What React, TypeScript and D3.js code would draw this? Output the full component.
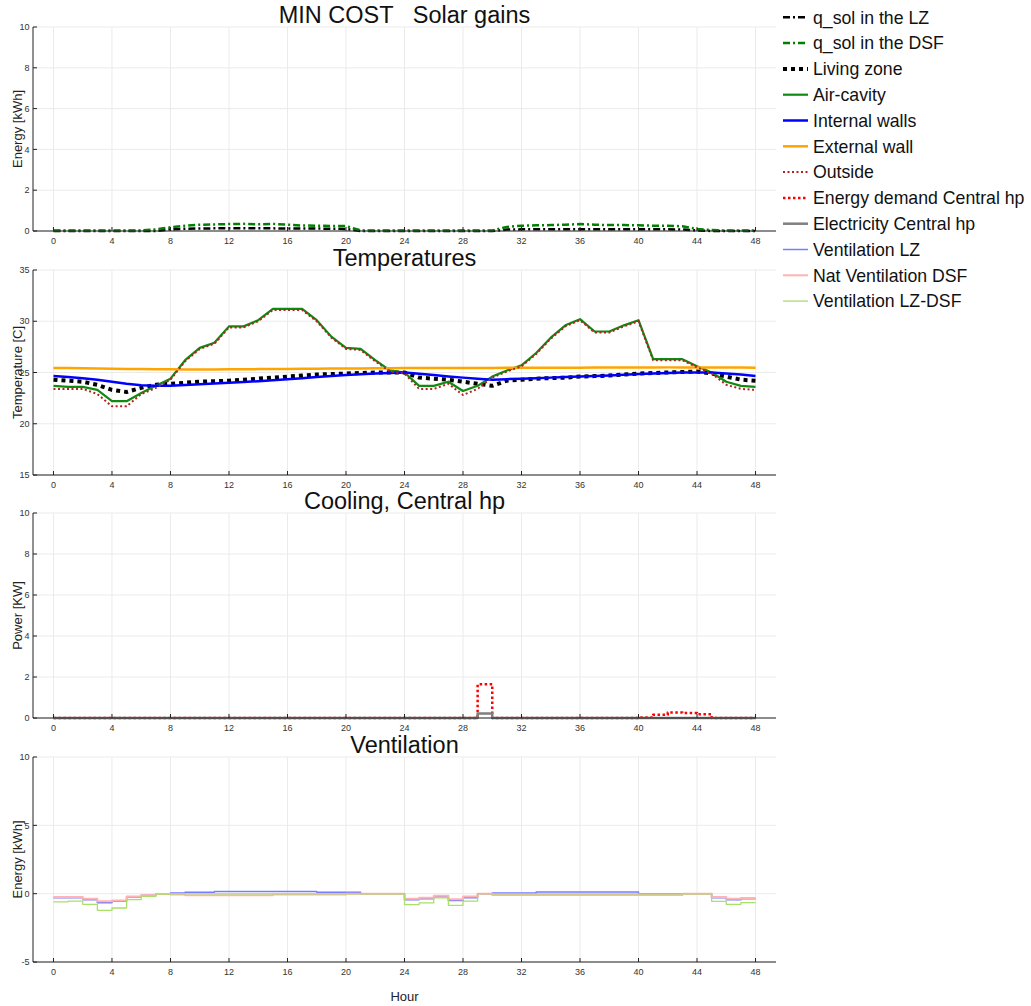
import React from 'react';
import * as d3 from 'd3';

const hours: number[] = d3.range(0, 49);
const xTicks: number[] = d3.range(0, 49, 4);

// Solar gains [kWh]
const qsolLZ = [0,0,0,0,0,0,0,0, 0.08,0.11,0.12,0.13,0.13,0.13,0.13,0.13,0.12,0.12,0.12,0.11, 0.1,0,0,0,0,0,0,0,0,0, 0,0.07,0.08,0.08,0.08,0.09,0.09,0.09,0.08,0.08, 0.08,0.08,0.08,0.07,0.03,0,0,0,0];
const qsolDSF = [0.02,0.02,0.02,0.02,0.03,0.03,0.03,0.08, 0.18,0.26,0.31,0.32,0.34,0.35,0.33,0.35,0.31,0.27,0.26,0.25, 0.24,0.03,0.02,0.02,0.02,0.02,0.02,0.02,0.02,0.02, 0.03,0.2,0.26,0.28,0.29,0.31,0.34,0.31,0.29,0.29, 0.28,0.26,0.26,0.23,0.1,0.05,0.02,0.02,0.02];

// Temperatures [C]
const livingZone = [24.3,24.2,24.1,23.8,23.3,23.1,23.5,23.8, 23.9,24.0,24.1,24.15,24.2,24.3,24.4,24.5,24.6,24.7,24.8,24.85, 24.9,24.95,25.0,25.0,25.0,24.5,24.4,24.3,24.1,23.9, 23.7,24.2,24.3,24.4,24.45,24.5,24.6,24.65,24.7,24.8, 24.9,24.95,25.0,25.05,25.1,24.9,24.6,24.3,24.2];
const airCavity = [23.7,23.6,23.6,23.3,22.2,22.2,23.0,23.7, 24.4,26.2,27.4,27.9,29.5,29.5,30.1,31.2,31.2,31.2,30.1,28.5, 27.4,27.3,26.2,25.2,25.0,23.7,23.7,24.1,23.2,23.7, 24.6,25.2,25.7,26.9,28.4,29.6,30.2,29.0,29.0,29.6, 30.1,26.3,26.3,26.3,25.6,25.0,24.1,23.7,23.6];
const internalWalls = [24.65,24.55,24.45,24.3,24.1,23.9,23.75,23.7, 23.7,23.78,23.85,23.92,24.0,24.08,24.15,24.25,24.35,24.45,24.55,24.65, 24.75,24.82,24.9,24.95,25.0,24.88,24.75,24.62,24.5,24.4, 24.3,24.35,24.4,24.45,24.5,24.55,24.6,24.65,24.7,24.78, 24.85,24.9,24.95,25.0,25.0,25.0,24.9,24.8,24.65];
const externalWall = [25.45,25.43,25.41,25.39,25.37,25.35,25.33,25.32, 25.31,25.3,25.3,25.3,25.31,25.32,25.33,25.34,25.35,25.36,25.37,25.38, 25.39,25.4,25.41,25.42,25.43,25.44,25.44,25.44,25.45,25.45, 25.45,25.46,25.46,25.46,25.47,25.47,25.47,25.48,25.48,25.48, 25.49,25.49,25.5,25.5,25.5,25.5,25.49,25.48,25.47];
const outside = [23.4,23.4,23.4,22.9,21.7,21.7,22.9,23.5, 24.3,26.1,27.3,27.8,29.4,29.4,30.0,31.1,31.1,31.1,30.0,28.4, 27.3,27.2,26.1,25.1,24.9,23.4,23.4,23.9,22.8,23.4, 24.5,25.1,25.6,26.8,28.3,29.5,30.1,28.9,28.9,29.5, 30.0,26.2,26.2,26.2,25.5,24.9,23.8,23.4,23.3];

// Cooling, central heat pump [kW] (step values)
const energyDemandHP = [0,0,0,0,0,0,0,0,0,0, 0,0,0,0,0,0,0,0,0,0, 0,0,0,0,0,0,0,0,0,1.65, 0,0,0,0,0,0,0,0,0,0, 0.03,0.16,0.27,0.24,0.18,0,0,0,0];
const electricityHP = [0,0,0,0,0,0,0,0,0,0, 0,0,0,0,0,0,0,0,0,0, 0,0,0,0,0,0,0,0,0,0.22, 0,0,0,0,0,0,0,0,0,0, 0,0,0,0,0,0,0,0,0];

// Ventilation [kWh] (step values)
const ventLZ = [-0.3,-0.3,-0.44,-0.66,-0.56,-0.25,-0.12,0,0.05,0.1, 0.1,0.15,0.15,0.15,0.15,0.15,0.15,0.15,0.1,0.1, 0.1,0,0,0,-0.44,-0.37,-0.2,-0.5,-0.3,0, 0.05,0.05,0.05,0.12,0.12,0.12,0.12,0.12,0.12,0.12, 0,0,0,0,0,-0.3,-0.44,-0.37,-0.37];
const natVentDSF = [-0.25,-0.25,-0.37,-0.56,-0.5,-0.2,-0.12,-0.03,-0.07,-0.12, -0.12,-0.12,-0.12,-0.12,-0.12,-0.07,-0.07,-0.07,-0.07,-0.07, 0,0,0,0,-0.37,-0.3,-0.15,-0.4,-0.2,0, -0.1,-0.1,-0.1,-0.1,-0.1,-0.1,-0.1,-0.1,-0.1,-0.1, -0.1,-0.1,-0.1,0,0,-0.25,-0.37,-0.32,-0.32];
const ventLZDSF = [-0.6,-0.54,-0.78,-1.22,-1.05,-0.44,-0.2,-0.03,-0.02,-0.02, -0.02,-0.02,-0.02,-0.02,-0.02,-0.02,-0.02,-0.02,-0.02,-0.02, -0.02,-0.02,-0.02,-0.02,-0.8,-0.68,-0.3,-0.85,-0.54,0, -0.02,-0.02,-0.02,-0.02,-0.02,-0.02,-0.02,-0.02,-0.02,-0.02, -0.02,-0.02,-0.02,-0.02,-0.02,-0.56,-0.78,-0.66,-0.66];

type Style = { color: string; width: number; dash?: string };
type Series = { name: string; values: number[]; style: Style; step?: boolean };

const S: Record<string, Style> = {
  qLZ: { color: '#000000', width: 2.5, dash: '7 3 2 3' },
  qDSF: { color: '#008000', width: 2.5, dash: '7 3 2 3' },
  living: { color: '#000000', width: 4, dash: '4 4' },
  air: { color: '#108a10', width: 2.2 },
  internal: { color: '#0000ff', width: 2.5 },
  external: { color: '#ffa500', width: 2.5 },
  outside: { color: '#b22222', width: 2, dash: '2 2.5' },
  demand: { color: '#ff0000', width: 2.5, dash: '2.5 2.5' },
  elec: { color: '#808080', width: 2.5 },
  vLZ: { color: '#7b7bff', width: 1.5 },
  vNat: { color: '#ffb3b3', width: 2 },
  vLZDSF: { color: '#a8e06a', width: 1.3 },
};

const legendItems: [string, Style][] = [
  ['q_sol in the LZ', S.qLZ],
  ['q_sol in the DSF', S.qDSF],
  ['Living zone', S.living],
  ['Air-cavity', S.air],
  ['Internal walls', S.internal],
  ['External wall', S.external],
  ['Outside', S.outside],
  ['Energy demand Central hp', S.demand],
  ['Electricity Central hp', S.elec],
  ['Ventilation LZ', S.vLZ],
  ['Nat Ventilation DSF', S.vNat],
  ['Ventilation LZ-DSF', S.vLZDSF],
];

type Panel = {
  title: string; top: number; bottom: number; domain: [number, number];
  yTicks: number[]; yLabel: string; series: Series[];
};

const panels: Panel[] = [
  { title: 'MIN COST   Solar gains', top: 27, bottom: 231, domain: [0, 10], yTicks: [0, 2, 4, 6, 8, 10], yLabel: 'Energy [kWh]',
    series: [
      { name: 'q_sol in the LZ', values: qsolLZ, style: S.qLZ },
      { name: 'q_sol in the DSF', values: qsolDSF, style: S.qDSF },
    ] },
  { title: 'Temperatures', top: 270, bottom: 475, domain: [15, 35], yTicks: [15, 20, 25, 30, 35], yLabel: 'Temperature [C]',
    series: [
      { name: 'Living zone', values: livingZone, style: S.living },
      { name: 'Air-cavity', values: airCavity, style: S.air },
      { name: 'Internal walls', values: internalWalls, style: S.internal },
      { name: 'External wall', values: externalWall, style: S.external },
      { name: 'Outside', values: outside, style: S.outside },
    ] },
  { title: 'Cooling, Central hp', top: 513, bottom: 718, domain: [0, 10], yTicks: [0, 2, 4, 6, 8, 10], yLabel: 'Power [KW]',
    series: [
      { name: 'Energy demand Central hp', values: energyDemandHP, style: S.demand, step: true },
      { name: 'Electricity Central hp', values: electricityHP, style: S.elec, step: true },
    ] },
  { title: 'Ventilation', top: 757, bottom: 962, domain: [-5, 10], yTicks: [-5, 0, 5, 10], yLabel: 'Energy [kWh]',
    series: [
      { name: 'Ventilation LZ', values: ventLZ, style: S.vLZ, step: true },
      { name: 'Nat Ventilation DSF', values: natVentDSF, style: S.vNat, step: true },
      { name: 'Ventilation LZ-DSF', values: ventLZDSF, style: S.vLZDSF, step: true },
    ] },
];

const LEFT = 33;
const RIGHT = 776;
const FONT = '"Liberation Sans", Arial, Helvetica, sans-serif';

function PanelView({ p, x }: { p: Panel; x: d3.ScaleLinear<number, number> }) {
  const y = d3.scaleLinear().domain(p.domain).range([p.bottom, p.top]);
  const cx = (LEFT + RIGHT) / 2;
  return (
    <g>
      {xTicks.map((t) => (
        <line key={'gx' + t} x1={x(t)} x2={x(t)} y1={p.top} y2={p.bottom} stroke="#ebebeb" strokeWidth={1} />
      ))}
      {p.yTicks.map((t) => (
        <line key={'gy' + t} x1={LEFT} x2={RIGHT} y1={y(t)} y2={y(t)} stroke="#ebebeb" strokeWidth={1} />
      ))}
      {p.series.map((s) => {
        const gen = d3.line<number>()
          .x((_, i) => x(hours[i]))
          .y((d) => y(d))
          .curve(s.step ? d3.curveStepAfter : d3.curveLinear);
        return (
          <path key={s.name} d={gen(s.values) || ''} fill="none" stroke={s.style.color}
            strokeWidth={s.style.width} strokeDasharray={s.style.dash} strokeLinejoin="round" />
        );
      })}
      <line x1={LEFT} x2={LEFT} y1={p.top} y2={p.bottom} stroke="#222" strokeWidth={1} />
      <line x1={LEFT} x2={RIGHT} y1={p.bottom} y2={p.bottom} stroke="#222" strokeWidth={1} />
      {xTicks.map((t) => (
        <g key={'xt' + t}>
          <line x1={x(t)} x2={x(t)} y1={p.bottom} y2={p.bottom - 4} stroke="#222" strokeWidth={1} />
          <text x={x(t)} y={p.bottom + 12.5} textAnchor="middle" fontSize={9} fill="#333" fontFamily={FONT}>{t}</text>
        </g>
      ))}
      {p.yTicks.map((t) => (
        <g key={'yt' + t}>
          <line x1={LEFT} x2={LEFT + 4} y1={y(t)} y2={y(t)} stroke="#222" strokeWidth={1} />
          <text x={29.5} y={y(t) + 3.2} textAnchor="end" fontSize={9} fill="#333" fontFamily={FONT}>{t}</text>
        </g>
      ))}
      <text transform={`translate(${21.5},${(p.top + p.bottom) / 2}) rotate(-90)`} textAnchor="middle"
        fontSize={13} fill="#222" fontFamily={FONT}>{p.yLabel}</text>
      <text x={cx} y={p.top - 4} textAnchor="middle" fontSize={23.5} fill="#111" fontFamily={FONT}
        style={{ whiteSpace: 'pre' }}>{p.title}</text>
    </g>
  );
}

export default function App() {
  const x = d3.scaleLinear().domain([-1.4, 49.4]).range([LEFT, RIGHT]);
  return (
    <svg width={1031} height={1006} style={{ position: 'absolute', left: 0, top: 0, background: '#fff' }}>
      <rect x={0} y={0} width={1031} height={1006} fill="#fff" />
      {panels.map((p) => <PanelView key={p.title} p={p} x={x} />)}
      <text x={(LEFT + RIGHT) / 2} y={1001} textAnchor="middle" fontSize={13} fill="#222" fontFamily={FONT}>Hour</text>
      {legendItems.map(([name, st], i) => {
        const yy = 17.3 + i * 25.8;
        return (
          <g key={name}>
            <line x1={783} x2={808} y1={yy} y2={yy} stroke={st.color} strokeWidth={st.width} strokeDasharray={st.dash} />
            <text x={813} y={yy + 6.2} fontSize={17.7} fill="#111" fontFamily={FONT}>{name}</text>
          </g>
        );
      })}
    </svg>
  );
}
